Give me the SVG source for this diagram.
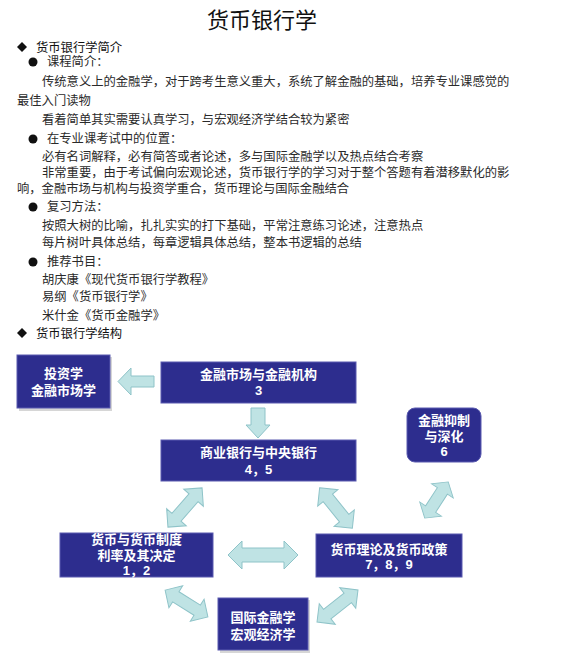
<svg xmlns="http://www.w3.org/2000/svg" width="580" height="664" viewBox="0 0 580 664">
<style>
  .t { font-family: "Liberation Sans", "Noto Sans CJK SC", sans-serif; font-size: 12.3px; fill: #2a2a2a; }
  .h { font-family: "Liberation Sans", "Noto Sans CJK SC", sans-serif; font-size: 12.3px; fill: #111; }
  .title { font-family: "Liberation Sans", "Noto Sans CJK SC", sans-serif; font-size: 22px; fill: #111; text-anchor: middle; }
  .box { fill: #2d2d8e; stroke: #5a5ab0; stroke-width: 1; }
  .shadow { fill: #d6d6d6; }
  .bt { font-family: "Liberation Sans", "Noto Sans CJK SC", sans-serif; font-size: 13px; fill: #ffffff; text-anchor: middle; font-weight: bold; }
  .arr { fill: #bfe3e4; stroke: #8ec3c8; stroke-width: 1; }
</style>
<defs>
  <path id="dbl" d="M-26,0 L-13,-13 L-13,-6 L13,-6 L13,-13 L26,0 L13,13 L13,6 L-13,6 L-13,13 Z"/>
</defs>

<g id="title"><text class="title" x="262" y="28">货币银行学</text></g>

<g id="outline">
  <path d="M22,42 L27,47 L22,52 L17,47 Z" fill="#111"/>
  <text class="h" x="36" y="52">货币银行学简介</text>
  <circle cx="33" cy="62" r="4.5" fill="#111"/>
  <text class="t" x="47" y="66">课程简介：</text>
  <text class="t" x="42" y="86">传统意义上的金融学，对于跨考生意义重大，系统了解金融的基础，培养专业课感觉的</text>
  <text class="t" x="17" y="105">最佳入门读物</text>
  <text class="t" x="42" y="124">看着简单其实需要认真学习，与宏观经济学结合较为紧密</text>
  <circle cx="33" cy="139" r="4.5" fill="#111"/>
  <text class="t" x="47" y="143">在专业课考试中的位置：</text>
  <text class="t" x="42" y="161">必有名词解释，必有简答或者论述，多与国际金融学以及热点结合考察</text>
  <text class="t" x="42" y="177">非常重要，由于考试偏向宏观论述，货币银行学的学习对于整个答题有着潜移默化的影</text>
  <text class="t" x="17" y="193">响，金融市场与机构与投资学重合，货币理论与国际金融结合</text>
  <circle cx="33" cy="207" r="4.5" fill="#111"/>
  <text class="t" x="47" y="211">复习方法：</text>
  <text class="t" x="42" y="230">按照大树的比喻，扎扎实实的打下基础，平常注意练习论述，注意热点</text>
  <text class="t" x="42" y="247">每片树叶具体总结，每章逻辑具体总结，整本书逻辑的总结</text>
  <circle cx="33" cy="262" r="4.5" fill="#111"/>
  <text class="t" x="47" y="266">推荐书目：</text>
  <text class="t" x="42" y="284">胡庆康《现代货币银行学教程》</text>
  <text class="t" x="42" y="301">易纲《货币银行学》</text>
  <text class="t" x="42" y="320">米什金《货币金融学》</text>
  <path d="M22,328 L27,333 L22,338 L17,333 Z" fill="#111"/>
  <text class="h" x="36" y="338">货币银行学结构</text>
</g>

<g id="connectors">
  <path class="arr" d="M118,381.5 L131,368 L131,376 L154,376 L154,387 L131,387 L131,395 Z"/>
  <path class="arr" d="M251,408 L265,408 L265,425 L270,425 L258,438 L246,425 L251,425 Z"/>
  <use href="#dbl" class="arr" transform="translate(185,507.5) rotate(-49)"/>
  <use href="#dbl" class="arr" transform="translate(336,508) rotate(51)"/>
  <use href="#dbl" class="arr" transform="translate(436.5,500) rotate(-57) scale(0.83,1)"/>
  <path class="arr" d="M228,555 L242,541 L242,548 L284,548 L284,541 L298,555 L284,569 L284,562 L242,562 L242,569 Z"/>
  <use href="#dbl" class="arr" transform="translate(186.5,603.5) rotate(32) scale(0.97,1)"/>
  <use href="#dbl" class="arr" transform="translate(337.5,606) rotate(-38)"/>
</g>

<g id="n-invest">
  <rect class="shadow" x="19" y="357" width="93" height="54"/>
  <rect class="box" x="17" y="355" width="93" height="53"/>
  <text class="bt" x="63.5" y="378">投资学</text>
  <text class="bt" x="63.5" y="395">金融市场学</text>
</g>

<g id="n-market">
  <rect class="box" x="161" y="362" width="195" height="41"/>
  <text class="bt" x="258.5" y="379">金融市场与金融机构</text>
  <text class="bt" x="258.5" y="395">3</text>
</g>

<g id="n-bank">
  <rect class="box" x="161" y="440" width="195" height="41"/>
  <text class="bt" x="258.5" y="457">商业银行与中央银行</text>
  <text class="bt" x="258.5" y="474">4，5</text>
</g>

<g id="n-repress">
  <rect class="box" x="407" y="408" width="74" height="54" rx="8" ry="8"/>
  <text class="bt" x="444" y="425">金融抑制</text>
  <text class="bt" x="444" y="441">与深化</text>
  <text class="bt" x="444" y="456">6</text>
</g>

<g id="n-money">
  <rect class="box" x="60" y="533" width="153" height="44"/>
  <text class="bt" x="136.5" y="544">货币与货币制度</text>
  <text class="bt" x="136.5" y="560">利率及其决定</text>
  <text class="bt" x="136.5" y="575">1，2</text>
</g>

<g id="n-theory">
  <rect class="box" x="316" y="534" width="146" height="43"/>
  <text class="bt" x="389" y="554">货币理论及货币政策</text>
  <text class="bt" x="389" y="569">7，8，9</text>
</g>

<g id="n-intl">
  <rect class="shadow" x="220" y="600" width="90" height="53"/>
  <rect class="box" x="218" y="598" width="90" height="52"/>
  <text class="bt" x="263" y="622">国际金融学</text>
  <text class="bt" x="263" y="639">宏观经济学</text>
</g>
</svg>
